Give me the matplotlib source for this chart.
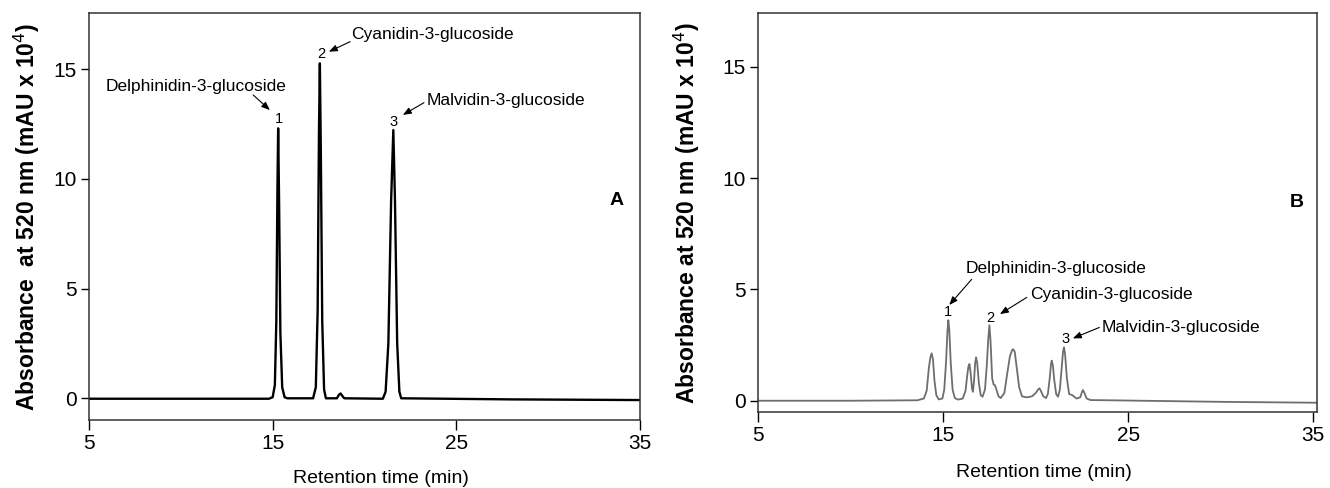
import matplotlib
matplotlib.use("Agg")
import matplotlib.pyplot as plt

plt.rcParams['font.family'] = ['Liberation Sans', 'DejaVu Sans']

# panel A: standards (time in min, absorbance in mAU x 10^4)
a_time = [5.0, 10.0, 14.8, 15.0, 15.12, 15.2, 15.26, 15.30, 15.35, 15.42, 15.52, 15.65, 15.8,
          17.2, 17.35, 17.45, 17.52, 17.57, 17.62, 17.70, 17.8, 17.9,
          18.5, 18.6, 18.7, 18.8, 18.9,
          21.0, 21.15, 21.3, 21.45, 21.57, 21.66, 21.78, 21.9, 22.0, 28.0, 35.0]
a_abs = [-0.02, -0.02, -0.02, 0.05, 0.6, 3.5, 9.5, 12.3, 9.0, 3.0, 0.5, 0.05, 0.0,
         0.0, 0.5, 4.0, 12.0, 15.26, 11.5, 3.5, 0.4, 0.0,
         0.0, 0.15, 0.22, 0.1, 0.0,
         -0.02, 0.3, 2.5, 9.0, 12.22, 9.0, 2.5, 0.3, 0.0, -0.05, -0.08]

# panel B: sample extract
b_time = [5.0, 10.0, 13.6, 13.95, 14.1, 14.22, 14.3, 14.37, 14.44, 14.52, 14.62, 14.75,
          14.95, 15.05, 15.15, 15.22, 15.27, 15.32, 15.4, 15.5, 15.62, 15.8,
          16.05, 16.2, 16.3, 16.36, 16.41, 16.47, 16.55, 16.6, 16.66, 16.72, 16.77, 16.83,
          16.92, 17.02, 17.12, 17.25, 17.35, 17.43, 17.49, 17.55, 17.64, 17.72, 17.79,
          17.87, 17.98, 18.1, 18.3, 18.45, 18.6, 18.72, 18.78, 18.86, 18.98, 19.1, 19.25,
          19.5, 19.8, 20.0, 20.12, 20.19, 20.27, 20.4, 20.55, 20.65, 20.75, 20.82, 20.86,
          20.92, 21.0, 21.1, 21.2, 21.3, 21.4, 21.47, 21.52, 21.58, 21.68, 21.8, 21.95,
          22.2, 22.4, 22.5, 22.54, 22.6, 22.75, 22.95, 24.0, 30.0, 35.22]
b_abs = [0.0, 0.0, 0.02, 0.1, 0.45, 1.5, 1.95, 2.13, 1.85, 0.9, 0.25, 0.06,
         0.1, 0.5, 1.8, 3.1, 3.62, 3.2, 1.7, 0.5, 0.12, 0.05,
         0.1, 0.45, 1.2, 1.55, 1.65, 1.3, 0.55, 0.4, 0.9, 1.7, 1.95, 1.7,
         0.8, 0.25, 0.18, 0.5, 1.6, 2.8, 3.39, 2.7, 1.0, 0.72, 0.70,
         0.5, 0.2, 0.12, 0.35, 1.2, 2.0, 2.28, 2.31, 2.2, 1.4, 0.6, 0.2,
         0.15, 0.2, 0.35, 0.5, 0.56, 0.45, 0.2, 0.12, 0.3, 1.0, 1.65, 1.80,
         1.6, 0.9, 0.3, 0.18, 0.5, 1.5, 2.2, 2.40, 2.1, 1.0, 0.3, 0.26,
         0.1, 0.15, 0.4, 0.48, 0.4, 0.1, 0.03, 0.02, -0.05, -0.09]

peak_names = ['Delphinidin-3-glucoside', 'Cyanidin-3-glucoside', 'Malvidin-3-glucoside']
peak_nums = ['1', '2', '3']

fig = plt.figure(figsize=(13.3, 4.88), dpi=100)
axA = fig.add_axes([0.0669, 0.1393, 0.4143, 0.8334])
axB = fig.add_axes([0.5702, 0.1551, 0.4203, 0.8182])

axA.plot(a_time, a_abs, color='black', lw=1.7)
axB.plot(b_time, b_abs, color='#6e6e6e', lw=1.3)

axA.set_xlim(5, 35)
axA.set_ylim(-0.99, 17.54)
axB.set_xlim(5, 35.22)
axB.set_ylim(-0.52, 17.41)

for ax in (axA, axB):
    ax.set_xticks([5, 15, 25, 35])
    ax.set_yticks([0, 5, 10, 15])
    ax.tick_params(axis='both', direction='out', length=6, width=1.0, labelsize=15, pad=3)
    ax.tick_params(axis='x', length=7)
    for s in ax.spines.values():
        s.set_linewidth(1.1)
        s.set_color('#333333')

axA.set_ylabel('Absorbance  at 520 nm (mAU x 10$^4$)', fontsize=16.5, fontweight='bold')
axA.yaxis.set_label_coords(-0.085, 0.50)
axB.set_ylabel('Absorbance at 520 nm (mAU x 10$^4$)', fontsize=16.5, fontweight='bold')
axB.yaxis.set_label_coords(-0.10, 0.50)

axA.set_xlabel('Retention time (min)', fontsize=14)
axA.xaxis.set_label_coords(0.53, -0.123)
axB.set_xlabel('Retention time (min)', fontsize=14)
axB.xaxis.set_label_coords(0.511, -0.13)

axA.text(33.74, 9.03, 'A', fontsize=14, fontweight='bold', ha='center', va='center')
axB.text(34.12, 8.88, 'B', fontsize=14, fontweight='bold', ha='center', va='center')

arrow = dict(arrowstyle='-|>,head_length=0.5,head_width=0.2', color='black', lw=0.8,
             shrinkA=0, shrinkB=0)

# panel A labels
axA.text(10.82, 14.2, peak_names[0], fontsize=12.5, ha='center', va='center')
axA.text(15.32, 12.72, peak_nums[0], fontsize=10.5, ha='center', va='center')
axA.annotate('', xy=(14.85, 13.13), xytext=(13.94, 13.82), arrowprops=arrow)
axA.text(19.29, 16.58, peak_names[1], fontsize=12.5, ha='left', va='center')
axA.text(17.66, 15.69, peak_nums[1], fontsize=10.5, ha='center', va='center')
axA.annotate('', xy=(18.06, 15.79), xytext=(19.22, 16.25), arrowprops=arrow)
axA.text(23.4, 13.59, peak_names[2], fontsize=12.5, ha='left', va='center')
axA.text(21.59, 12.57, peak_nums[2], fontsize=10.5, ha='center', va='center')
axA.annotate('', xy=(22.09, 12.91), xytext=(23.24, 13.47), arrowprops=arrow)

# panel B labels
axB.text(21.11, 5.95, peak_names[0], fontsize=12.5, ha='center', va='center')
axB.text(15.24, 4.0, peak_nums[0], fontsize=10.5, ha='center', va='center')
axB.annotate('', xy=(15.32, 4.30), xytext=(16.53, 5.45), arrowprops=arrow)
axB.text(19.69, 4.75, peak_names[1], fontsize=12.5, ha='left', va='center')
axB.text(17.52, 3.73, peak_nums[1], fontsize=10.5, ha='center', va='center')
axB.annotate('', xy=(18.06, 3.89), xytext=(19.51, 4.64), arrowprops=arrow)
axB.text(23.56, 3.29, peak_names[2], fontsize=12.5, ha='left', va='center')
axB.text(21.58, 2.77, peak_nums[2], fontsize=10.5, ha='center', va='center')
axB.annotate('', xy=(22.0, 2.8), xytext=(23.43, 3.29), arrowprops=arrow)

fig.savefig('out.png', dpi=100)
